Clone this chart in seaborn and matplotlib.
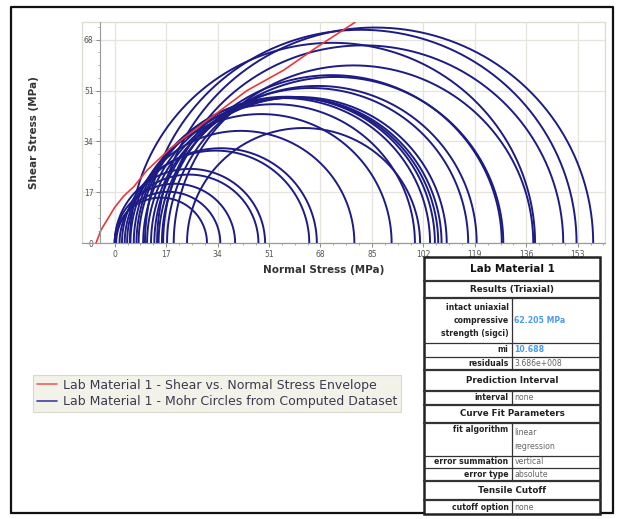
import numpy as np
import pandas as pd
import matplotlib
matplotlib.use("Agg")
import matplotlib.pyplot as plt
import seaborn as sns
from matplotlib.patches import Rectangle
from matplotlib.lines import Line2D

# ---------------- data ----------------
sigma3 = [0, 0.5, 0, 1.6, 0, 2.4, 3.3, 4.1, 5.2, 23.9, 6.3, 7.2, 7.9, 9.4, 10.7,
          12.0, 13.1, 14.5, 15.6, 17.3, 19.5, 5.0, 16.0, 10.0, 14.0]
sigma1 = [30.5, 34.9, 39.8, 47.5, 49.7, 64.3, 66.8, 79.2, 91.5, 100.9, 99.2, 104.2,
          105.8, 106.9, 108.0, 109.7, 116.8, 119.6, 127.9, 128.4, 138.3, 138.9,
          148.2, 152.6, 158.1]

env_normal = [-6.2, -4.5, -2.5, 0.0, 3.0, 6.3, 10.7, 18.4, 30.5, 43.7, 55.8, 66.8, 79.4]
env_shear = [0.0, 4.5, 7.8, 12.0, 15.8, 18.9, 24.4, 31.7, 41.0, 51.0, 57.8, 65.5, 73.8]

x_ticks = [0, 17, 34, 51, 68, 85, 102, 119, 136, 153]
y_ticks = [0, 17, 34, 51, 68]

legend_labels = ["Lab Material 1 - Shear vs. Normal Stress Envelope",
                 "Lab Material 1 - Mohr Circles from Computed Dataset"]

table_title = "Lab Material 1"
table_rows = [
    ("section", "Results (Triaxial)", ""),
    ("kv", "intact uniaxial\ncompressive\nstrength (sigci)", "62.205 MPa"),
    ("kv", "mi", "10.688"),
    ("kv", "residuals", "3.686e+008"),
    ("section", "Prediction Interval", ""),
    ("kv", "interval", "none"),
    ("section", "Curve Fit Parameters", ""),
    ("kv", "fit algorithm", "linear\nregression"),
    ("kv", "error summation", "vertical"),
    ("kv", "error type", "absolute"),
    ("section", "Tensile Cutoff", ""),
    ("kv", "cutoff option", "none"),
]
highlight_values = ["62.205 MPa", "10.688"]

# ---------------- build frames ----------------
theta = np.linspace(0, np.pi, 181)
recs = []
for i, (s3, s1) in enumerate(zip(sigma3, sigma1)):
    c = (s1 + s3) / 2.0
    r = (s1 - s3) / 2.0
    for t in theta:
        recs.append((i, c + r * np.cos(t), r * np.sin(t)))
circles = pd.DataFrame(recs, columns=["circle", "normal", "shear"])
env = pd.DataFrame({"normal": env_normal, "shear": env_shear})

# ---------------- figure ----------------
W, H = 623, 519
sns.set_theme(style="white")
plt.rcParams["font.family"] = ["DejaVu Sans"]
fig = plt.figure(figsize=(W / 100, H / 100), dpi=100)
fig.patch.set_facecolor("white")

def fx(x):
    return x / W

def fy(y):
    return 1 - y / H

ax_l, ax_r, ax_t, ax_b = 82, 605, 22, 243.3
ax = fig.add_axes([fx(ax_l), fy(ax_b), (ax_r - ax_l) / W, (ax_b - ax_t) / H])

blue = "#1c1c84"
red = "#e8383a"

sns.lineplot(data=circles, x="normal", y="shear", units="circle", estimator=None,
             sort=False, color=blue, lw=1.4, ax=ax, legend=False)
sns.lineplot(data=env, x="normal", y="shear", estimator=None, sort=False,
             color=red, lw=1.2, ax=ax, legend=False)

ax.set_xlim(-10.8, 162)
ax.set_ylim(0, 73.9)
ax.set_xticks(x_ticks)
ax.set_xticklabels([str(v) for v in x_ticks])
ax.set_yticks(y_ticks)
ax.set_yticklabels([str(v) for v in y_ticks])
ax.set_xticks(np.arange(0, 162, 17 / 4), minor=True)
ax.set_yticks(np.arange(0, 74, 17 / 4), minor=True)
ax.grid(True, which="major", color="#e4e4dc", lw=0.9)
ax.set_axisbelow(True)
ax.set_xlabel("")
ax.set_ylabel("")

for s in ["top", "right"]:
    ax.spines[s].set_visible(False)
ax.spines["left"].set_position(("data", -4.7))
ax.spines["left"].set_color("#9a9a9a")
ax.spines["left"].set_linewidth(0.8)
ax.spines["bottom"].set_color("#9a9a9a")
ax.spines["bottom"].set_linewidth(0.8)
ax.add_patch(Rectangle((0, 0), 1, 1, transform=ax.transAxes, fill=False,
                       ec="#dcdcd2", lw=1.0, zorder=0.5, clip_on=False))
ax.tick_params(axis="both", which="major", direction="out", length=3, width=0.7,
               color="#8a8a8a", labelsize=5.5, labelcolor="#555555", pad=2,
               bottom=True, left=True)
ax.tick_params(axis="both", which="minor", direction="out", length=1.5, width=0.6,
               color="#9a9a9a", bottom=True, left=True)

fig.text(fx(324), fy(270), "Normal Stress (MPa)", ha="center", va="center",
         fontsize=7.5, fontweight="bold", color="#333333")
fig.text(fx(34), fy(133), "Shear Stress (MPa)", ha="center", va="center",
         rotation=90, fontsize=7.5, fontweight="bold", color="#333333")

# ---------------- legend ----------------
handles = [Line2D([], [], color="#f06060", lw=1.2),
           Line2D([], [], color="#4040a0", lw=1.2)]
leg = fig.legend(handles, legend_labels, loc="upper left",
                 bbox_to_anchor=(fx(33), fy(375)), frameon=True, fancybox=False,
                 fontsize=9, handlelength=1.6, handletextpad=0.5,
                 borderpad=0.3, labelspacing=0.3, borderaxespad=0)
leg.get_frame().set_facecolor("#f0efe4")
leg.get_frame().set_edgecolor("#d0d0c4")
leg.get_frame().set_linewidth(0.8)
for t in leg.get_texts():
    t.set_color("#3a3a50")

# ---------------- table ----------------
tx0, tx1, tdiv = 424, 600, 511.5
row_bounds = [257, 281, 298, 343, 357, 370, 391, 405, 423, 456, 468, 481, 500, 514]
fig.patches.append(Rectangle((fx(tx0), fy(row_bounds[-1])), (tx1 - tx0) / W,
                             (row_bounds[-1] - row_bounds[0]) / H,
                             transform=fig.transFigure, fc="white", ec="#222222",
                             lw=1.8, zorder=5))

def hline(y, lw=0.9):
    fig.add_artist(Line2D([fx(tx0), fx(tx1)], [fy(y), fy(y)], color="#333333",
                          lw=lw, zorder=6, transform=fig.transFigure))

fig.text(fx((tx0 + tx1) / 2), fy((row_bounds[0] + row_bounds[1]) / 2), table_title,
         ha="center", va="center", fontsize=7.5, fontweight="bold", color="#111111",
         zorder=7)
hline(row_bounds[1], 1.6)
for k, (kind, lab, val) in enumerate(table_rows):
    top, bot = row_bounds[k + 1], row_bounds[k + 2]
    mid = (top + bot) / 2
    nxt = table_rows[k + 1][0] if k + 1 < len(table_rows) else "end"
    if kind == "section":
        fig.text(fx((tx0 + tx1) / 2), fy(mid), lab, ha="center", va="center",
                 fontsize=6.3, fontweight="bold", color="#222222", zorder=7)
        hline(bot, 1.6)
    else:
        fig.add_artist(Line2D([fx(tdiv), fx(tdiv)], [fy(top), fy(bot)], color="#333333",
                              lw=0.9, zorder=6, transform=fig.transFigure))
        ly = top + 6.5 if lab == "fit algorithm" else mid
        fig.text(fx(tdiv - 3), fy(ly), lab, ha="right", va="center", fontsize=5.6,
                 fontweight="bold", color="#222222", linespacing=1.5, zorder=7)
        hl = val in highlight_values
        fig.text(fx(tdiv + 3), fy(mid), val, ha="left", va="center", fontsize=5.6,
                 fontweight="bold" if hl else "normal",
                 color="#4a9af0" if hl else "#666666", linespacing=1.8, zorder=7)
        if nxt == "kv":
            hline(bot, 0.9)
        elif nxt == "section":
            hline(bot, 1.6)

# ---------------- outer frame ----------------
fig.add_artist(Line2D([fx(11), fx(11), fx(613), fx(613)],
                      [fy(513), fy(7), fy(7), fy(513)], color="#111111", lw=1.6,
                      transform=fig.transFigure, zorder=4))
fig.add_artist(Line2D([fx(11), fx(424)], [fy(513), fy(513)], color="#111111", lw=1.6,
                      transform=fig.transFigure, zorder=4))
fig.add_artist(Line2D([fx(600), fx(613)], [fy(513), fy(513)], color="#111111", lw=1.6,
                      transform=fig.transFigure, zorder=4))

fig.savefig("out.png", dpi=100, facecolor="white")
